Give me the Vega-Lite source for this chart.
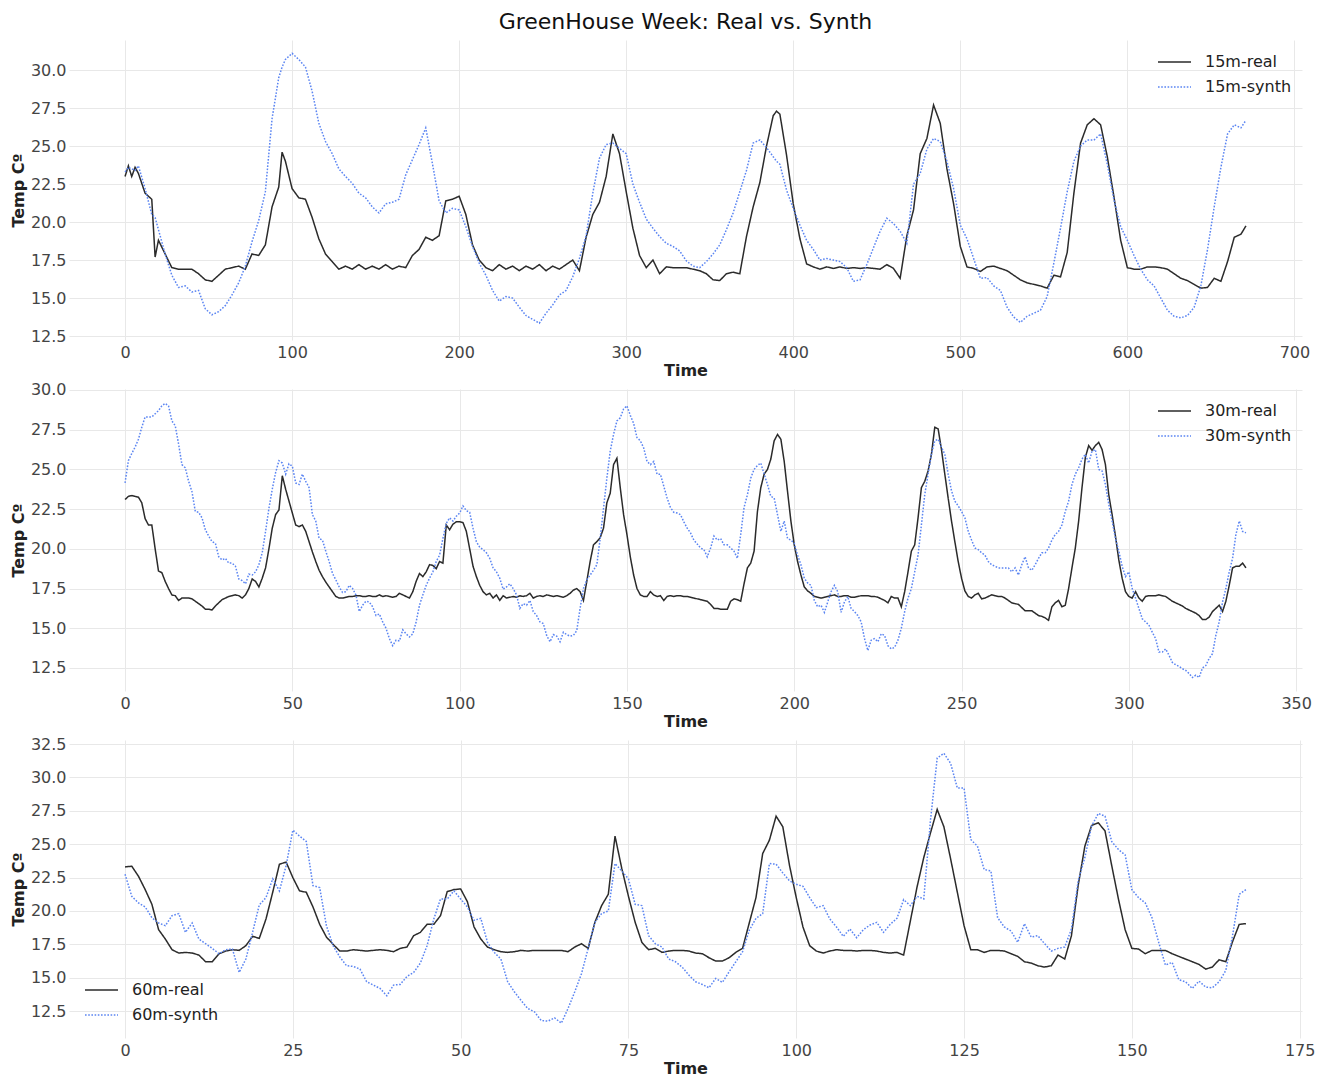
{
"$schema": "https://vega.github.io/schema/vega-lite/v6.json",
"padding": {"left": 10, "top": 11, "right": 19, "bottom": 2},
"background": "white",
"config": {
  "font": "DejaVu Sans",
  "view": {"stroke": null},
  "axis": {"grid": true, "gridColor": "#e8e8e8", "gridWidth": 1, "domain": false, "ticks": false, "labelFontSize": 16, "labelColor": "#444444", "titleFontSize": 16, "titleFontWeight": "bold", "titleColor": "#222222", "labelFlush": false, "labelFont": "DejaVu Sans", "titleFont": "DejaVu Sans"},
  "axisX": {"labelPadding": 4, "titlePadding": 2},
  "axisY": {"labelPadding": 3, "titlePadding": 4},
  "legend": {"labelFont": "DejaVu Sans", "labelFontSize": 16, "labelColor": "#222222"}
},
"datasets": {
"d15": [
{"t":0,"real":23.0,"synth":23.3},{"t":2,"real":23.7,"synth":23.6},{"t":4,"real":23.0,"synth":23.5},{"t":6,"real":23.6,"synth":23.4},{"t":8,"real":23.2,"synth":23.7},{"t":12,"real":21.9,"synth":22.2},{"t":16,"real":21.5,"synth":20.5},{"t":18,"real":17.7,"synth":20.3},{"t":20,"real":18.8,"synth":19.5},{"t":24,"real":17.9,"synth":17.9},{"t":28,"real":17.0,"synth":16.5},{"t":32,"real":16.9,"synth":15.7},{"t":36,"real":16.9,"synth":15.8},{"t":40,"real":16.9,"synth":15.4},{"t":44,"real":16.6,"synth":15.5},{"t":48,"real":16.2,"synth":14.3},{"t":52,"real":16.1,"synth":13.9},{"t":56,"real":16.5,"synth":14.1},{"t":60,"real":16.9,"synth":14.5},{"t":64,"real":17.0,"synth":15.2},{"t":68,"real":17.1,"synth":16.0},{"t":72,"real":16.9,"synth":17.1},{"t":76,"real":17.9,"synth":18.7},{"t":80,"real":17.8,"synth":20.1},{"t":84,"real":18.5,"synth":22.0},{"t":88,"real":21.0,"synth":26.8},{"t":92,"real":22.3,"synth":29.5},{"t":94,"real":24.6,"synth":30.2},{"t":96,"real":24.0,"synth":30.7},{"t":100,"real":22.2,"synth":31.1},{"t":104,"real":21.6,"synth":30.7},{"t":108,"real":21.5,"synth":30.2},{"t":112,"real":20.3,"synth":28.6},{"t":116,"real":18.9,"synth":26.5},{"t":120,"real":17.9,"synth":25.3},{"t":124,"real":17.4,"synth":24.5},{"t":128,"real":16.9,"synth":23.5},{"t":132,"real":17.1,"synth":23.0},{"t":136,"real":16.9,"synth":22.55},{"t":140,"real":17.2,"synth":21.9},{"t":144,"real":16.9,"synth":21.6},{"t":148,"real":17.1,"synth":21.0},{"t":152,"real":16.9,"synth":20.6},{"t":156,"real":17.2,"synth":21.2},{"t":160,"real":16.9,"synth":21.3},{"t":164,"real":17.1,"synth":21.5},{"t":168,"real":17.0,"synth":23.1},{"t":172,"real":17.8,"synth":24.1},{"t":176,"real":18.2,"synth":25.1},{"t":180,"real":19.0,"synth":26.2},{"t":184,"real":18.8,"synth":23.85},{"t":188,"real":19.1,"synth":21.4},{"t":192,"real":21.4,"synth":20.6},{"t":196,"real":21.5,"synth":20.9},{"t":200,"real":21.7,"synth":20.8},{"t":204,"real":20.5,"synth":19.7},{"t":208,"real":18.5,"synth":18.4},{"t":212,"real":17.5,"synth":17.3},{"t":216,"real":17.0,"synth":16.5},{"t":220,"real":16.8,"synth":15.5},{"t":224,"real":17.2,"synth":14.8},{"t":228,"real":16.9,"synth":15.1},{"t":232,"real":17.1,"synth":15.0},{"t":236,"real":16.8,"synth":14.4},{"t":240,"real":17.1,"synth":13.85},{"t":244,"real":16.9,"synth":13.6},{"t":248,"real":17.2,"synth":13.35},{"t":252,"real":16.8,"synth":14.0},{"t":256,"real":17.1,"synth":14.55},{"t":260,"real":16.9,"synth":15.2},{"t":264,"real":17.2,"synth":15.5},{"t":268,"real":17.5,"synth":16.4},{"t":272,"real":16.8,"synth":17.6},{"t":276,"real":19.0,"synth":19.1},{"t":280,"real":20.5,"synth":21.9},{"t":284,"real":21.3,"synth":24.2},{"t":288,"real":23.0,"synth":25.1},{"t":292,"real":25.8,"synth":25.2},{"t":296,"real":24.5,"synth":24.85},{"t":300,"real":22.0,"synth":24.5},{"t":304,"real":19.6,"synth":22.5},{"t":308,"real":17.8,"synth":21.3},{"t":312,"real":17.0,"synth":20.2},{"t":316,"real":17.5,"synth":19.6},{"t":320,"real":16.6,"synth":19.05},{"t":324,"real":17.05,"synth":18.6},{"t":328,"real":17.0,"synth":18.4},{"t":332,"real":17.0,"synth":18.1},{"t":336,"real":17.0,"synth":17.45},{"t":340,"real":16.9,"synth":17.1},{"t":344,"real":16.8,"synth":17.0},{"t":348,"real":16.6,"synth":17.4},{"t":352,"real":16.2,"synth":17.9},{"t":356,"real":16.15,"synth":18.5},{"t":360,"real":16.6,"synth":19.5},{"t":364,"real":16.7,"synth":20.6},{"t":368,"real":16.6,"synth":22.0},{"t":372,"real":19.05,"synth":23.4},{"t":376,"real":21.0,"synth":25.2},{"t":380,"real":22.6,"synth":25.4},{"t":384,"real":25.0,"synth":24.9},{"t":388,"real":27.0,"synth":24.3},{"t":390,"real":27.3,"synth":24.0},{"t":392,"real":27.1,"synth":23.8},{"t":396,"real":24.4,"synth":22.1},{"t":400,"real":21.2,"synth":20.9},{"t":404,"real":18.9,"synth":19.8},{"t":408,"real":17.25,"synth":18.8},{"t":412,"real":17.05,"synth":18.2},{"t":416,"real":16.9,"synth":17.5},{"t":420,"real":17.05,"synth":17.6},{"t":424,"real":16.95,"synth":17.5},{"t":428,"real":17.05,"synth":17.4},{"t":432,"real":16.95,"synth":17.0},{"t":436,"real":17.0,"synth":16.1},{"t":440,"real":16.95,"synth":16.2},{"t":444,"real":17.0,"synth":17.2},{"t":448,"real":16.95,"synth":18.3},{"t":452,"real":16.9,"synth":19.4},{"t":456,"real":17.2,"synth":20.25},{"t":460,"real":16.95,"synth":19.9},{"t":464,"real":16.3,"synth":19.4},{"t":468,"real":19.1,"synth":18.6},{"t":472,"real":20.8,"synth":22.5},{"t":476,"real":24.5,"synth":23.2},{"t":480,"real":25.5,"synth":24.8},{"t":484,"real":27.7,"synth":25.5},{"t":488,"real":26.5,"synth":25.3},{"t":492,"real":23.5,"synth":24.0},{"t":496,"real":21.2,"synth":22.2},{"t":500,"real":18.4,"synth":19.8},{"t":504,"real":17.05,"synth":18.9},{"t":508,"real":16.95,"synth":17.6},{"t":512,"real":16.75,"synth":16.3},{"t":516,"real":17.05,"synth":16.35},{"t":520,"real":17.1,"synth":15.8},{"t":524,"real":16.95,"synth":15.5},{"t":528,"real":16.8,"synth":14.4},{"t":532,"real":16.5,"synth":13.75},{"t":536,"real":16.2,"synth":13.4},{"t":540,"real":16.0,"synth":13.8},{"t":544,"real":15.9,"synth":14.0},{"t":548,"real":15.8,"synth":14.2},{"t":552,"real":15.65,"synth":15.1},{"t":556,"real":16.5,"synth":17.3},{"t":560,"real":16.4,"synth":19.6},{"t":564,"real":18.0,"synth":22.0},{"t":568,"real":21.9,"synth":24.0},{"t":572,"real":25.2,"synth":25.0},{"t":576,"real":26.4,"synth":25.4},{"t":580,"real":26.8,"synth":25.4},{"t":584,"real":26.4,"synth":25.8},{"t":588,"real":24.3,"synth":23.8},{"t":592,"real":21.65,"synth":21.45},{"t":596,"real":18.8,"synth":19.7},{"t":600,"real":17.0,"synth":18.8},{"t":604,"real":16.9,"synth":17.8},{"t":608,"real":16.9,"synth":16.9},{"t":612,"real":17.05,"synth":16.2},{"t":616,"real":17.05,"synth":15.8},{"t":620,"real":17.0,"synth":15.0},{"t":624,"real":16.9,"synth":14.2},{"t":628,"real":16.6,"synth":13.8},{"t":632,"real":16.3,"synth":13.7},{"t":636,"real":16.15,"synth":13.85},{"t":640,"real":15.9,"synth":14.4},{"t":644,"real":15.65,"synth":15.8},{"t":648,"real":15.7,"synth":18.2},{"t":652,"real":16.3,"synth":21.0},{"t":656,"real":16.1,"synth":23.6},{"t":660,"real":17.4,"synth":25.8},{"t":664,"real":19.0,"synth":26.4},{"t":668,"real":19.2,"synth":26.2},{"t":671,"real":19.75,"synth":26.7}
],
"d30": [
{"t":0,"real":23.1,"synth":24.15},{"t":1,"real":23.3,"synth":25.55},{"t":2,"real":23.35,"synth":26.0},{"t":3,"real":23.3,"synth":26.4},{"t":4,"real":23.25,"synth":26.9},{"t":5,"real":22.9,"synth":27.65},{"t":6,"real":21.9,"synth":28.3},{"t":7,"real":21.5,"synth":28.3},{"t":8,"real":21.5,"synth":28.3},{"t":9,"real":20.0,"synth":28.5},
{"t":10,"real":18.6,"synth":28.7},{"t":11,"real":18.5,"synth":29.0},{"t":12,"real":17.95,"synth":29.15},{"t":13,"real":17.5,"synth":29.0},{"t":14,"real":17.1,"synth":28.05},{"t":15,"real":17.05,"synth":27.75},{"t":16,"real":16.75,"synth":26.6},{"t":17,"real":16.9,"synth":25.3},{"t":18,"real":16.9,"synth":25.1},{"t":19,"real":16.9,"synth":24.25},
{"t":20,"real":16.85,"synth":23.6},{"t":21,"real":16.7,"synth":22.35},{"t":22,"real":16.55,"synth":22.3},{"t":23,"real":16.4,"synth":21.95},{"t":24,"real":16.2,"synth":21.2},{"t":25,"real":16.2,"synth":20.8},{"t":26,"real":16.15,"synth":20.45},{"t":27,"real":16.4,"synth":20.35},{"t":28,"real":16.6,"synth":19.5},{"t":29,"real":16.8,"synth":19.3},
{"t":30,"real":16.9,"synth":19.4},{"t":31,"real":17.0,"synth":19.1},{"t":32,"real":17.05,"synth":19.1},{"t":33,"real":17.1,"synth":18.9},{"t":34,"real":17.05,"synth":18.1},{"t":35,"real":16.9,"synth":18.0},{"t":36,"real":17.1,"synth":17.8},{"t":37,"real":17.5,"synth":18.4},{"t":38,"real":18.1,"synth":18.35},{"t":39,"real":17.95,"synth":18.55},
{"t":40,"real":17.6,"synth":19.0},{"t":41,"real":18.15,"synth":19.75},{"t":42,"real":18.8,"synth":21.1},{"t":43,"real":20.0,"synth":22.55},{"t":44,"real":21.3,"synth":23.75},{"t":45,"real":22.15,"synth":24.8},{"t":46,"real":22.45,"synth":25.55},{"t":47,"real":24.6,"synth":25.4},{"t":48,"real":23.75,"synth":24.7},{"t":49,"real":23.0,"synth":25.35},
{"t":50,"real":22.25,"synth":25.2},{"t":51,"real":21.5,"synth":24.15},{"t":52,"real":21.4,"synth":24.05},{"t":53,"real":21.5,"synth":24.7},{"t":54,"real":21.1,"synth":24.25},{"t":55,"real":20.45,"synth":23.85},{"t":56,"real":19.8,"synth":22.15},{"t":57,"real":19.2,"synth":21.75},{"t":58,"real":18.65,"synth":20.65},{"t":59,"real":18.25,"synth":20.55},
{"t":60,"real":17.9,"synth":19.85},{"t":61,"real":17.6,"synth":19.2},{"t":62,"real":17.3,"synth":18.45},{"t":63,"real":17.0,"synth":18.05},{"t":64,"real":16.9,"synth":17.6},{"t":65,"real":16.9,"synth":17.25},{"t":66,"real":16.95,"synth":17.3},{"t":67,"real":17.0,"synth":17.7},{"t":68,"real":17.0,"synth":17.5},{"t":69,"real":17.05,"synth":17.1},
{"t":70,"real":17.05,"synth":16.05},{"t":71,"real":17.0,"synth":16.45},{"t":72,"real":17.0,"synth":16.7},{"t":73,"real":17.05,"synth":16.65},{"t":74,"real":17.0,"synth":16.35},{"t":75,"real":17.0,"synth":15.8},{"t":76,"real":17.1,"synth":15.9},{"t":77,"real":17.0,"synth":15.4},{"t":78,"real":17.05,"synth":15.0},{"t":79,"real":17.0,"synth":14.35},
{"t":80,"real":16.95,"synth":13.9},{"t":81,"real":17.0,"synth":14.25},{"t":82,"real":17.2,"synth":14.2},{"t":83,"real":17.1,"synth":14.9},{"t":84,"real":17.0,"synth":14.65},{"t":85,"real":16.9,"synth":14.45},{"t":86,"real":17.3,"synth":14.65},{"t":87,"real":17.95,"synth":15.4},{"t":88,"real":18.45,"synth":16.45},{"t":89,"real":18.25,"synth":17.1},
{"t":90,"real":18.55,"synth":17.7},{"t":91,"real":19.0,"synth":18.15},{"t":92,"real":18.95,"synth":18.55},{"t":93,"real":18.75,"synth":19.2},{"t":94,"real":19.2,"synth":19.6},{"t":95,"real":19.1,"synth":20.65},{"t":96,"real":21.5,"synth":21.6},{"t":97,"real":21.2,"synth":21.95},{"t":98,"real":21.55,"synth":21.75},{"t":99,"real":21.7,"synth":22.05},
{"t":100,"real":21.7,"synth":22.25},{"t":101,"real":21.65,"synth":22.7},{"t":102,"real":21.1,"synth":22.4},{"t":103,"real":20.0,"synth":22.3},{"t":104,"real":18.9,"synth":21.3},{"t":105,"real":18.25,"synth":20.45},{"t":106,"real":17.7,"synth":20.1},{"t":107,"real":17.3,"synth":19.95},{"t":108,"real":17.1,"synth":19.75},{"t":109,"real":17.2,"synth":19.4},
{"t":110,"real":16.9,"synth":18.8},{"t":111,"real":17.1,"synth":18.55},{"t":112,"real":16.75,"synth":18.15},{"t":113,"real":17.05,"synth":17.45},{"t":114,"real":16.9,"synth":17.6},{"t":115,"real":16.95,"synth":17.8},{"t":116,"real":17.0,"synth":17.5},{"t":117,"real":16.95,"synth":17.1},{"t":118,"real":17.05,"synth":16.25},{"t":119,"real":17.0,"synth":16.55},
{"t":120,"real":17.05,"synth":16.45},{"t":121,"real":17.2,"synth":16.75},{"t":122,"real":16.9,"synth":16.05},{"t":123,"real":17.0,"synth":15.8},{"t":124,"real":17.05,"synth":15.4},{"t":125,"real":17.0,"synth":15.3},{"t":126,"real":17.1,"synth":14.55},{"t":127,"real":17.05,"synth":14.15},{"t":128,"real":17.0,"synth":14.6},{"t":129,"real":17.05,"synth":14.5},
{"t":130,"real":17.0,"synth":14.15},{"t":131,"real":16.95,"synth":14.75},{"t":132,"real":17.05,"synth":14.6},{"t":133,"real":17.2,"synth":14.5},{"t":134,"real":17.4,"synth":14.55},{"t":135,"real":17.5,"synth":14.85},{"t":136,"real":17.3,"synth":16.25},{"t":137,"real":16.75,"synth":17.5},{"t":138,"real":17.95,"synth":18.05},{"t":139,"real":19.2,"synth":18.35},
{"t":140,"real":20.25,"synth":18.65},{"t":141,"real":20.45,"synth":19.0},{"t":142,"real":20.7,"synth":20.65},{"t":143,"real":21.3,"synth":22.55},{"t":144,"real":22.9,"synth":24.45},{"t":145,"real":23.5,"synth":26.15},{"t":146,"real":25.3,"synth":27.2},{"t":147,"real":25.7,"synth":28.05},{"t":148,"real":23.85,"synth":28.25},{"t":149,"real":22.15,"synth":28.8},
{"t":150,"real":20.9,"synth":29.0},{"t":151,"real":19.5,"synth":28.4},{"t":152,"real":18.35,"synth":27.9},{"t":153,"real":17.5,"synth":27.0},{"t":154,"real":17.1,"synth":26.8},{"t":155,"real":17.0,"synth":26.35},{"t":156,"real":17.0,"synth":25.5},{"t":157,"real":17.3,"synth":25.3},{"t":158,"real":17.1,"synth":25.5},{"t":159,"real":17.0,"synth":24.7},
{"t":160,"real":17.05,"synth":24.7},{"t":161,"real":16.75,"synth":23.95},{"t":162,"real":17.0,"synth":23.2},{"t":163,"real":17.05,"synth":22.6},{"t":164,"real":17.0,"synth":22.3},{"t":165,"real":17.05,"synth":22.25},{"t":166,"real":17.05,"synth":22.15},{"t":167,"real":17.0,"synth":21.7},{"t":168,"real":17.0,"synth":21.3},{"t":169,"real":16.95,"synth":21.0},
{"t":170,"real":16.9,"synth":20.55},{"t":171,"real":16.85,"synth":20.3},{"t":172,"real":16.8,"synth":20.05},{"t":173,"real":16.75,"synth":19.95},{"t":174,"real":16.7,"synth":19.5},{"t":175,"real":16.5,"synth":20.05},{"t":176,"real":16.25,"synth":20.8},{"t":177,"real":16.25,"synth":20.55},{"t":178,"real":16.2,"synth":20.65},{"t":179,"real":16.2,"synth":20.25},
{"t":180,"real":16.2,"synth":20.25},{"t":181,"real":16.7,"synth":20.05},{"t":182,"real":16.85,"synth":19.85},{"t":183,"real":16.8,"synth":19.4},{"t":184,"real":16.7,"synth":20.9},{"t":185,"real":17.8,"synth":22.6},{"t":186,"real":18.8,"synth":23.4},{"t":187,"real":19.1,"synth":24.45},{"t":188,"real":19.85,"synth":25.0},{"t":189,"real":22.35,"synth":25.25},
{"t":190,"real":23.85,"synth":25.4},{"t":191,"real":24.7,"synth":24.7},{"t":192,"real":25.0,"synth":24.05},{"t":193,"real":25.65,"synth":23.3},{"t":194,"real":26.8,"synth":23.2},{"t":195,"real":27.2,"synth":22.15},{"t":196,"real":26.9,"synth":21.1},{"t":197,"real":25.5,"synth":21.75},{"t":198,"real":23.6,"synth":20.65},{"t":199,"real":21.75,"synth":20.55},
{"t":200,"real":20.25,"synth":20.35},{"t":201,"real":19.2,"synth":19.6},{"t":202,"real":18.35,"synth":19.0},{"t":203,"real":17.6,"synth":18.15},{"t":204,"real":17.35,"synth":17.85},{"t":205,"real":17.2,"synth":17.7},{"t":206,"real":17.0,"synth":16.75},{"t":207,"real":16.95,"synth":16.35},{"t":208,"real":16.9,"synth":16.45},{"t":209,"real":16.95,"synth":16.0},
{"t":210,"real":17.0,"synth":16.65},{"t":211,"real":17.05,"synth":17.3},{"t":212,"real":17.1,"synth":17.7},{"t":213,"real":17.0,"synth":17.3},{"t":214,"real":17.0,"synth":16.0},{"t":215,"real":17.05,"synth":16.65},{"t":216,"real":17.05,"synth":17.0},{"t":217,"real":16.95,"synth":16.25},{"t":218,"real":16.95,"synth":16.05},{"t":219,"real":17.0,"synth":15.8},
{"t":220,"real":17.05,"synth":15.4},{"t":221,"real":17.05,"synth":14.35},{"t":222,"real":17.05,"synth":13.6},{"t":223,"real":17.0,"synth":14.25},{"t":224,"real":17.0,"synth":14.35},{"t":225,"real":16.95,"synth":14.15},{"t":226,"real":16.85,"synth":14.65},{"t":227,"real":16.75,"synth":14.55},{"t":228,"real":16.6,"synth":13.9},{"t":229,"real":17.0,"synth":13.7},
{"t":230,"real":16.9,"synth":13.8},{"t":231,"real":16.9,"synth":14.25},{"t":232,"real":16.35,"synth":15.0},{"t":233,"real":17.3,"synth":16.05},{"t":234,"real":18.55,"synth":16.9},{"t":235,"real":19.85,"synth":17.5},{"t":236,"real":20.25,"synth":18.55},{"t":237,"real":21.95,"synth":19.6},{"t":238,"real":23.85,"synth":21.5},{"t":239,"real":24.25,"synth":23.4},
{"t":240,"real":24.9,"synth":24.7},{"t":241,"real":25.95,"synth":25.95},{"t":242,"real":27.65,"synth":26.8},{"t":243,"real":27.55,"synth":26.9},{"t":244,"real":26.25,"synth":26.4},{"t":245,"real":24.7,"synth":25.95},{"t":246,"real":23.2,"synth":24.7},{"t":247,"real":21.75,"synth":23.65},{"t":248,"real":20.45,"synth":23.0},{"t":249,"real":19.2,"synth":22.7},
{"t":250,"real":18.15,"synth":22.35},{"t":251,"real":17.35,"synth":21.95},{"t":252,"real":17.0,"synth":21.1},{"t":253,"real":16.9,"synth":20.55},{"t":254,"real":17.1,"synth":20.05},{"t":255,"real":17.2,"synth":19.95},{"t":256,"real":16.85,"synth":19.75},{"t":257,"real":16.9,"synth":19.6},{"t":258,"real":17.0,"synth":19.2},{"t":259,"real":17.1,"synth":19.0},
{"t":260,"real":17.05,"synth":18.9},{"t":261,"real":17.0,"synth":18.8},{"t":262,"real":17.0,"synth":18.8},{"t":263,"real":16.9,"synth":18.8},{"t":264,"real":16.75,"synth":18.8},{"t":265,"real":16.6,"synth":18.55},{"t":266,"real":16.55,"synth":18.8},{"t":267,"real":16.5,"synth":18.35},{"t":268,"real":16.3,"synth":19.0},{"t":269,"real":16.1,"synth":19.5},
{"t":270,"real":16.1,"synth":18.8},{"t":271,"real":16.1,"synth":18.65},{"t":272,"real":15.95,"synth":19.0},{"t":273,"real":15.8,"synth":19.4},{"t":274,"real":15.75,"synth":19.75},{"t":275,"real":15.65,"synth":19.75},{"t":276,"real":15.5,"synth":20.05},{"t":277,"real":16.35,"synth":20.55},{"t":278,"real":16.6,"synth":20.9},{"t":279,"real":16.75,"synth":21.1},
{"t":280,"real":16.35,"synth":21.5},{"t":281,"real":16.45,"synth":22.35},{"t":282,"real":17.5,"synth":23.0},{"t":283,"real":18.8,"synth":24.05},{"t":284,"real":20.05,"synth":24.7},{"t":285,"real":21.75,"synth":25.1},{"t":286,"real":23.85,"synth":25.65},{"t":287,"real":25.75,"synth":25.95},{"t":288,"real":26.5,"synth":25.4},{"t":289,"real":26.2,"synth":26.15},
{"t":290,"real":26.5,"synth":26.25},{"t":291,"real":26.7,"synth":25.0},{"t":292,"real":26.25,"synth":24.9},{"t":293,"real":25.3,"synth":24.05},{"t":294,"real":23.4,"synth":22.8},{"t":295,"real":22.15,"synth":21.75},{"t":296,"real":20.8,"synth":20.65},{"t":297,"real":19.3,"synth":19.85},{"t":298,"real":18.15,"synth":18.9},{"t":299,"real":17.3,"synth":18.25},
{"t":300,"real":17.0,"synth":18.55},{"t":301,"real":16.9,"synth":17.5},{"t":302,"real":17.3,"synth":16.9},{"t":303,"real":16.9,"synth":16.25},{"t":304,"real":16.7,"synth":15.6},{"t":305,"real":17.0,"synth":15.4},{"t":306,"real":17.05,"synth":15.2},{"t":307,"real":17.05,"synth":14.75},{"t":308,"real":17.05,"synth":14.35},{"t":309,"real":17.1,"synth":13.5},
{"t":310,"real":17.05,"synth":13.5},{"t":311,"real":17.0,"synth":13.7},{"t":312,"real":16.85,"synth":13.3},{"t":313,"real":16.7,"synth":12.85},{"t":314,"real":16.6,"synth":12.7},{"t":315,"real":16.5,"synth":12.6},{"t":316,"real":16.4,"synth":12.45},{"t":317,"real":16.25,"synth":12.35},{"t":318,"real":16.15,"synth":12.15},{"t":319,"real":16.05,"synth":11.9},
{"t":320,"real":15.95,"synth":12.05},{"t":321,"real":15.8,"synth":11.9},{"t":322,"real":15.55,"synth":12.5},{"t":323,"real":15.55,"synth":12.65},{"t":324,"real":15.7,"synth":13.1},{"t":325,"real":16.05,"synth":13.4},{"t":326,"real":16.25,"synth":14.55},{"t":327,"real":16.45,"synth":15.4},{"t":328,"real":16.05,"synth":16.65},{"t":329,"real":16.7,"synth":17.5},
{"t":330,"real":17.7,"synth":18.55},{"t":331,"real":18.8,"synth":19.4},{"t":332,"real":18.9,"synth":20.9},{"t":333,"real":18.9,"synth":21.75},{"t":334,"real":19.1,"synth":21.1},{"t":335,"real":18.8,"synth":21.0}
],
"d60": [
{"t":0,"real":23.3,"synth":22.75},{"t":1,"real":23.35,"synth":21.1},{"t":2,"real":22.6,"synth":20.6},{"t":3,"real":21.6,"synth":20.3},{"t":4,"real":20.5,"synth":19.5},{"t":5,"real":18.6,"synth":19.1},{"t":6,"real":17.9,"synth":18.9},{"t":7,"real":17.1,"synth":19.65},{"t":8,"real":16.85,"synth":19.8},{"t":9,"real":16.9,"synth":18.4},
{"t":10,"real":16.85,"synth":19.1},{"t":11,"real":16.7,"synth":17.9},{"t":12,"real":16.2,"synth":17.55},{"t":13,"real":16.2,"synth":17.2},{"t":14,"real":16.8,"synth":16.8},{"t":15,"real":17.0,"synth":17.1},{"t":16,"real":17.1,"synth":17.15},{"t":17,"real":17.05,"synth":15.4},{"t":18,"real":17.4,"synth":16.4},{"t":19,"real":18.1,"synth":18.4},
{"t":20,"real":17.95,"synth":20.45},{"t":21,"real":19.4,"synth":21.0},{"t":22,"real":21.4,"synth":22.4},{"t":23,"real":23.5,"synth":21.5},{"t":24,"real":23.66,"synth":23.4},{"t":25,"real":22.5,"synth":26.05},{"t":26,"real":21.5,"synth":25.6},{"t":27,"real":21.4,"synth":25.2},{"t":28,"real":20.3,"synth":21.9},{"t":29,"real":19.0,"synth":21.75},
{"t":30,"real":18.05,"synth":18.9},{"t":31,"real":17.5,"synth":17.4},{"t":32,"real":17.0,"synth":16.55},{"t":33,"real":17.0,"synth":15.9},{"t":34,"real":17.1,"synth":15.85},{"t":35,"real":17.05,"synth":15.65},{"t":36,"real":17.0,"synth":14.7},{"t":37,"real":17.05,"synth":14.45},{"t":38,"real":17.1,"synth":14.2},{"t":39,"real":17.05,"synth":13.65},
{"t":40,"real":16.95,"synth":14.45},{"t":41,"real":17.2,"synth":14.5},{"t":42,"real":17.3,"synth":15.1},{"t":43,"real":18.15,"synth":15.4},{"t":44,"real":18.4,"synth":16.1},{"t":45,"real":19.0,"synth":17.4},{"t":46,"real":19.0,"synth":19.4},{"t":47,"real":19.65,"synth":20.9},{"t":48,"real":21.45,"synth":20.9},{"t":49,"real":21.6,"synth":21.5},
{"t":50,"real":21.65,"synth":20.9},{"t":51,"real":20.7,"synth":20.3},{"t":52,"real":18.8,"synth":19.3},{"t":53,"real":17.9,"synth":19.45},{"t":54,"real":17.3,"synth":17.65},{"t":55,"real":17.1,"synth":16.9},{"t":56,"real":16.95,"synth":16.4},{"t":57,"real":16.9,"synth":14.7},{"t":58,"real":16.95,"synth":13.95},{"t":59,"real":17.05,"synth":13.3},
{"t":60,"real":17.0,"synth":12.7},{"t":61,"real":17.05,"synth":12.45},{"t":62,"real":17.05,"synth":11.8},{"t":63,"real":17.05,"synth":11.75},{"t":64,"real":17.05,"synth":12.0},{"t":65,"real":17.05,"synth":11.6},{"t":66,"real":16.95,"synth":12.7},{"t":67,"real":17.3,"synth":13.95},{"t":68,"real":17.55,"synth":15.3},{"t":69,"real":17.2,"synth":17.2},
{"t":70,"real":19.15,"synth":19.15},{"t":71,"real":20.4,"synth":19.8},{"t":72,"real":21.25,"synth":20.0},{"t":73,"real":25.6,"synth":23.55},{"t":74,"real":23.2,"synth":23.0},{"t":75,"real":21.1,"synth":22.4},{"t":76,"real":19.15,"synth":20.5},{"t":77,"real":17.65,"synth":20.4},{"t":78,"real":17.1,"synth":18.15},{"t":79,"real":17.2,"synth":17.55},
{"t":80,"real":16.9,"synth":17.3},{"t":81,"real":17.0,"synth":16.4},{"t":82,"real":17.05,"synth":16.2},{"t":83,"real":17.05,"synth":15.8},{"t":84,"real":17.0,"synth":15.2},{"t":85,"real":16.85,"synth":14.7},{"t":86,"real":16.8,"synth":14.5},{"t":87,"real":16.5,"synth":14.25},{"t":88,"real":16.25,"synth":14.95},{"t":89,"real":16.25,"synth":14.65},
{"t":90,"real":16.5,"synth":15.45},{"t":91,"real":16.9,"synth":16.2},{"t":92,"real":17.2,"synth":16.95},{"t":93,"real":19.1,"synth":18.55},{"t":94,"real":21.0,"synth":19.45},{"t":95,"real":24.3,"synth":19.8},{"t":96,"real":25.3,"synth":23.55},{"t":97,"real":27.1,"synth":23.5},{"t":98,"real":26.3,"synth":22.85},{"t":99,"real":23.4,"synth":22.25},
{"t":100,"real":21.0,"synth":22.0},{"t":101,"real":18.8,"synth":21.85},{"t":102,"real":17.4,"synth":21.0},{"t":103,"real":17.0,"synth":20.25},{"t":104,"real":16.85,"synth":20.4},{"t":105,"real":17.0,"synth":19.4},{"t":106,"real":17.1,"synth":18.8},{"t":107,"real":17.05,"synth":18.1},{"t":108,"real":17.05,"synth":18.65},{"t":109,"real":17.0,"synth":18.0},
{"t":110,"real":17.05,"synth":18.6},{"t":111,"real":17.05,"synth":18.95},{"t":112,"real":17.0,"synth":19.15},{"t":113,"real":16.9,"synth":18.4},{"t":114,"real":16.85,"synth":19.0},{"t":115,"real":16.9,"synth":19.45},{"t":116,"real":16.7,"synth":20.85},{"t":117,"real":19.25,"synth":20.4},{"t":118,"real":21.8,"synth":21.1},{"t":119,"real":24.0,"synth":20.9},
{"t":120,"real":25.85,"synth":26.8},{"t":121,"real":27.6,"synth":31.45},{"t":122,"real":26.3,"synth":31.8},{"t":123,"real":23.9,"synth":31.05},{"t":124,"real":21.4,"synth":29.2},{"t":125,"real":18.9,"synth":29.2},{"t":126,"real":17.1,"synth":25.35},{"t":127,"real":17.1,"synth":24.85},{"t":128,"real":16.9,"synth":23.1},{"t":129,"real":17.05,"synth":23.0},
{"t":130,"real":17.05,"synth":19.5},{"t":131,"real":17.0,"synth":18.8},{"t":132,"real":16.8,"synth":18.5},{"t":133,"real":16.6,"synth":17.65},{"t":134,"real":16.2,"synth":19.05},{"t":135,"real":16.1,"synth":18.05},{"t":136,"real":15.9,"synth":18.15},{"t":137,"real":15.8,"synth":17.55},{"t":138,"real":15.9,"synth":17.0},{"t":139,"real":16.7,"synth":17.2},
{"t":140,"real":16.4,"synth":17.3},{"t":141,"real":18.15,"synth":18.65},{"t":142,"real":21.9,"synth":22.25},{"t":143,"real":24.85,"synth":24.0},{"t":144,"real":26.4,"synth":26.35},{"t":145,"real":26.6,"synth":27.3},{"t":146,"real":26.0,"synth":27.1},{"t":147,"real":23.4,"synth":25.2},{"t":148,"real":20.9,"synth":24.6},{"t":149,"real":18.6,"synth":24.2},
{"t":150,"real":17.2,"synth":21.6},{"t":151,"real":17.15,"synth":21.0},{"t":152,"real":16.8,"synth":20.6},{"t":153,"real":17.05,"synth":19.5},{"t":154,"real":17.05,"synth":17.65},{"t":155,"real":17.05,"synth":15.95},{"t":156,"real":16.8,"synth":16.15},{"t":157,"real":16.6,"synth":14.85},{"t":158,"real":16.4,"synth":14.7},{"t":159,"real":16.2,"synth":14.2},
{"t":160,"real":16.0,"synth":14.75},{"t":161,"real":15.65,"synth":14.3},{"t":162,"real":15.8,"synth":14.25},{"t":163,"real":16.35,"synth":14.7},{"t":164,"real":16.2,"synth":15.55},{"t":165,"real":17.7,"synth":18.15},{"t":166,"real":19.0,"synth":21.25},{"t":167,"real":19.05,"synth":21.6}
]
},
"vconcat": [
{
  "title": {"text": "GreenHouse Week: Real vs. Synth", "frame": "group", "anchor": "middle", "fontSize": 22, "font": "DejaVu Sans", "fontWeight": "normal", "color": "#111111", "offset": 6},
  "width": 1233, "height": 300,
  "data": {"name": "d15"},
  "transform": [{"fold": ["real", "synth"], "as": ["series", "temp"]}],
  "mark": {"type": "line", "strokeWidth": 1.5},
  "encoding": {
    "x": {"field": "t", "type": "quantitative", "title": "Time", "scale": {"domain": [-33.55, 704.55], "nice": false, "zero": false}, "axis": {"values": [0, 100, 200, 300, 400, 500, 600, 700]}},
    "y": {"field": "temp", "type": "quantitative", "title": "Temp Cº", "scale": {"domain": [12.24, 31.98], "nice": false, "zero": false}, "axis": {"values": [12.5, 15, 17.5, 20, 22.5, 25, 27.5, 30], "format": ".1f"}},
    "color": {"field": "series", "type": "nominal", "scale": {"domain": ["real", "synth"], "range": ["#2b2b2b", "#5b85f2"]}, "legend": {"title": null, "orient": "top-right", "offset": 10, "padding": 0, "symbolType": "M-2,0H1", "symbolSize": 484, "symbolStrokeWidth": 1.5, "labelOffset": 13, "rowPadding": 5, "labelExpr": "datum.label == 'real' ? '15m-real' : '15m-synth'"}},
    "strokeDash": {"field": "series", "type": "nominal", "scale": {"domain": ["real", "synth"], "range": [[1, 0], [1.6, 1.6]]}, "legend": {"title": null, "orient": "top-right", "offset": 10, "padding": 0, "symbolType": "M-2,0H1", "symbolSize": 484, "symbolStrokeWidth": 1.5, "labelOffset": 13, "rowPadding": 5, "labelExpr": "datum.label == 'real' ? '15m-real' : '15m-synth'"}}
  }
},
{
  "width": 1233, "height": 302,
  "data": {"name": "d30"},
  "transform": [{"fold": ["real", "synth"], "as": ["series", "temp"]}],
  "mark": {"type": "line", "strokeWidth": 1.5},
  "encoding": {
    "x": {"field": "t", "type": "quantitative", "title": "Time", "scale": {"domain": [-16.75, 351.75], "nice": false, "zero": false}, "axis": {"values": [0, 50, 100, 150, 200, 250, 300, 350]}},
    "y": {"field": "temp", "type": "quantitative", "title": "Temp Cº", "scale": {"domain": [11.05, 30.06], "nice": false, "zero": false}, "axis": {"values": [12.5, 15, 17.5, 20, 22.5, 25, 27.5, 30], "format": ".1f"}},
    "color": {"field": "series", "type": "nominal", "scale": {"domain": ["real", "synth"], "range": ["#2b2b2b", "#5b85f2"]}, "legend": {"title": null, "orient": "top-right", "offset": 10, "padding": 0, "symbolType": "M-2,0H1", "symbolSize": 484, "symbolStrokeWidth": 1.5, "labelOffset": 13, "rowPadding": 5, "labelExpr": "datum.label == 'real' ? '30m-real' : '30m-synth'"}},
    "strokeDash": {"field": "series", "type": "nominal", "scale": {"domain": ["real", "synth"], "range": [[1, 0], [1.6, 1.6]]}, "legend": {"title": null, "orient": "top-right", "offset": 10, "padding": 0, "symbolType": "M-2,0H1", "symbolSize": 484, "symbolStrokeWidth": 1.5, "labelOffset": 13, "rowPadding": 5, "labelExpr": "datum.label == 'real' ? '30m-real' : '30m-synth'"}}
  }
},
{
  "width": 1233, "height": 298,
  "data": {"name": "d60"},
  "transform": [{"fold": ["real", "synth"], "as": ["series", "temp"]}],
  "mark": {"type": "line", "strokeWidth": 1.5},
  "encoding": {
    "x": {"field": "t", "type": "quantitative", "title": "Time", "scale": {"domain": [-8.35, 175.35], "nice": false, "zero": false}, "axis": {"values": [0, 25, 50, 75, 100, 125, 150, 175]}},
    "y": {"field": "temp", "type": "quantitative", "title": "Temp Cº", "scale": {"domain": [10.49, 32.8], "nice": false, "zero": false}, "axis": {"values": [12.5, 15, 17.5, 20, 22.5, 25, 27.5, 30, 32.5], "format": ".1f"}},
    "color": {"field": "series", "type": "nominal", "scale": {"domain": ["real", "synth"], "range": ["#2b2b2b", "#5b85f2"]}, "legend": {"title": null, "orient": "bottom-left", "offset": 15, "padding": 0, "symbolType": "M-1,0H2", "symbolSize": 484, "symbolStrokeWidth": 1.5, "labelOffset": 24, "rowPadding": 5, "labelExpr": "datum.label == 'real' ? '60m-real' : '60m-synth'"}},
    "strokeDash": {"field": "series", "type": "nominal", "scale": {"domain": ["real", "synth"], "range": [[1, 0], [1.6, 1.6]]}, "legend": {"title": null, "orient": "bottom-left", "offset": 15, "padding": 0, "symbolType": "M-1,0H2", "symbolSize": 484, "symbolStrokeWidth": 1.5, "labelOffset": 24, "rowPadding": 5, "labelExpr": "datum.label == 'real' ? '60m-real' : '60m-synth'"}}
  }
}
],
"spacing": 49,
"bounds": "flush",
"resolve": {"scale": {"x": "independent", "y": "independent", "color": "independent", "strokeDash": "independent"}}
}
